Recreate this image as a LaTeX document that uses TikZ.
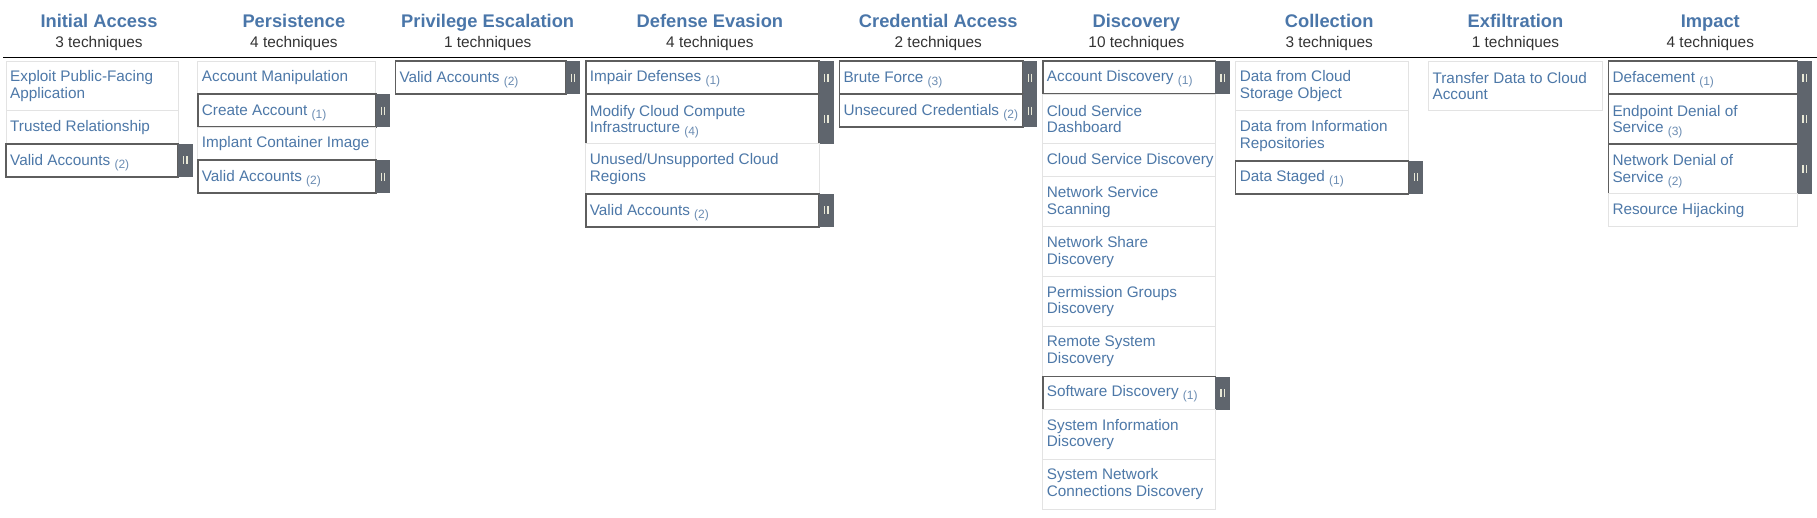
\documentclass[tikz,border=0pt]{standalone}
\usepackage{fontspec}
\setmainfont{Liberation Sans}
\definecolor{itemblue}{HTML}{4D78A8}
\definecolor{titleblue}{HTML}{4A76A9}
\definecolor{cntblue}{HTML}{6C8DB3}
\definecolor{subgray}{HTML}{333333}
\definecolor{lightedge}{HTML}{E3E3E3}
\definecolor{darkedge}{HTML}{5E5E5E}
\definecolor{handlegray}{HTML}{5F656D}
\definecolor{markcol}{HTML}{E8E8D6}
\tikzset{
 box/.style={draw=lightedge, line width=1pt, fill=white, rectangle, anchor=north west, inner sep=0pt, outer sep=0pt},
 subbox/.style={draw=darkedge, line width=1.6pt},
 techtext/.style={anchor=west, inner sep=0pt, align=left, text=itemblue, font=\fontsize{15.3pt}{16.7pt}\selectfont},
 handle/.style={fill=handlegray, draw=none, anchor=north west, inner sep=0pt, outer sep=0pt, minimum width=14.5pt},
 hmark/.style={draw=markcol, line width=1.3pt},
 ttl/.style={anchor=base, text=titleblue, font=\fontsize{18.3pt}{20pt}\selectfont\bfseries, inner sep=0pt},
 cntline/.style={anchor=base, text=subgray, font=\fontsize{15.4pt}{17pt}\selectfont, inner sep=0pt},
 rule/.style={draw=black, line width=1.5pt}
}
\newcommand{\cn}[1]{\smash{\raisebox{-3pt}{\fontsize{12pt}{12pt}\selectfont\color{cntblue}(#1)}}}
\newcommand{\tech}[6]{%
 \node[box, minimum width=#4pt, minimum height=#5pt] (#1) at (#2,#3) {};
 \node[techtext] (#1-t) at ([xshift=4pt]#1.west) {#6};}
\newcommand{\techsub}[6]{%
 \node[box, subbox, minimum width=#4pt, minimum height=#5pt] (#1) at (#2,#3) {};
 \node[handle, minimum height=#5pt] (#1-h) at (#1.north east) {};
 \draw[hmark] ([xshift=-1.7pt,yshift=4pt]#1-h.center) -- ([xshift=-1.7pt,yshift=-4pt]#1-h.center);
 \draw[hmark] ([xshift=1.7pt,yshift=4pt]#1-h.center) -- ([xshift=1.7pt,yshift=-4pt]#1-h.center);
 \node[techtext] (#1-t) at ([xshift=4pt]#1.west) {#6};}
\begin{document}
\begin{tikzpicture}[x=1pt,y=-1pt]
\useasboundingbox (0,0) rectangle (1817,517);
% titles
\node[ttl] (t1) at (99,27.3) {Initial Access};
\node[cntline] (s1) at (99,47.5) {3 techniques};
\node[ttl] (t2) at (293.9,27.3) {Persistence};
\node[cntline] (s2) at (293.9,47.5) {4 techniques};
\node[ttl] (t3) at (487.7,27.3) {Privilege Escalation};
\node[cntline] (s3) at (487.7,47.5) {1 techniques};
\node[ttl] (t4) at (709.9,27.3) {Defense Evasion};
\node[cntline] (s4) at (709.9,47.5) {4 techniques};
\node[ttl] (t5) at (938.3,27.3) {Credential Access};
\node[cntline] (s5) at (938.3,47.5) {2 techniques};
\node[ttl] (t6) at (1136.4,27.3) {Discovery};
\node[cntline] (s6) at (1136.4,47.5) {10 techniques};
\node[ttl] (t7) at (1329.2,27.3) {Collection};
\node[cntline] (s7) at (1329.2,47.5) {3 techniques};
\node[ttl] (t8) at (1515.5,27.3) {Exfiltration};
\node[cntline] (s8) at (1515.5,47.5) {1 techniques};
\node[ttl] (t9) at (1710.3,27.3) {Impact};
\node[cntline] (s9) at (1710.3,47.5) {4 techniques};
% rule
\coordinate (ruleL) at (3,57.3);
\coordinate (ruleR) at (1817,57.3);
\draw[rule] (ruleL) -- (ruleR);
% column 1
\tech{a1}{6}{61}{172}{49.9}{Exploit Public-Facing\\Application}
\tech{a2}{6}{110.9}{172}{33}{Trusted Relationship}
\techsub{a3}{6}{143.9}{172}{33}{Valid Accounts \cn{2}}
% column 2
\tech{b1}{197.7}{61}{178}{33}{Account Manipulation}
\techsub{b2}{197.7}{94}{178}{33}{Create Account \cn{1}}
\tech{b3}{197.7}{127}{178}{33}{Implant Container Image}
\techsub{b4}{197.7}{160}{178}{33}{Valid Accounts \cn{2}}
% column 3
\techsub{c1}{395.3}{61}{170.4}{33}{Valid Accounts \cn{2}}
% column 4
\techsub{d1}{585.7}{61}{233.3}{33}{Impair Defenses \cn{1}}
\techsub{d2}{585.7}{94}{233.3}{49.9}{Modify Cloud Compute\\Infrastructure \cn{4}}
\tech{d3}{585.7}{143.9}{233.3}{49.9}{Unused/Unsupported Cloud\\Regions}
\techsub{d4}{585.7}{193.8}{233.3}{33}{Valid Accounts \cn{2}}
% column 5
\techsub{e1}{839.3}{61}{183.4}{33}{Brute Force \cn{3}}
\techsub{e2}{839.3}{94}{183.4}{33}{Unsecured Credentials \cn{2}}
% column 6
\techsub{f1}{1042.7}{61}{172.6}{33}{Account Discovery \cn{1}}
\tech{f2}{1042.7}{94}{172.6}{49.9}{Cloud Service\\Dashboard}
\tech{f3}{1042.7}{143.9}{172.6}{33}{Cloud Service Discovery}
\tech{f4}{1042.7}{176.9}{172.6}{49.9}{Network Service\\Scanning}
\tech{f5}{1042.7}{226.8}{172.6}{49.9}{Network Share\\Discovery}
\tech{f6}{1042.7}{276.7}{172.6}{49.9}{Permission Groups\\Discovery}
\tech{f7}{1042.7}{326.6}{172.6}{49.9}{Remote System\\Discovery}
\techsub{f8}{1042.7}{376.5}{172.6}{33}{Software Discovery \cn{1}}
\tech{f9}{1042.7}{409.5}{172.6}{49.9}{System Information\\Discovery}
\tech{f10}{1042.7}{459.4}{172.6}{49.9}{System Network\\Connections Discovery}
% column 7
\tech{g1}{1235.6}{61}{173}{49.9}{Data from Cloud\\Storage Object}
\tech{g2}{1235.6}{110.9}{173}{49.9}{Data from Information\\Repositories}
\techsub{g3}{1235.6}{160.8}{173}{33}{Data Staged \cn{1}}
% column 8
\tech{h1}{1428.4}{61}{174.1}{49.9}{Transfer Data to Cloud\\Account}
% column 9
\techsub{i1}{1608.3}{61}{189}{33}{Defacement \cn{1}}
\techsub{i2}{1608.3}{94}{189}{49.9}{Endpoint Denial of\\Service \cn{3}}
\techsub{i3}{1608.3}{143.9}{189}{49.9}{Network Denial of\\Service \cn{2}}
\tech{i4}{1608.3}{193.8}{189}{33}{Resource Hijacking}
\end{tikzpicture}
\end{document}
